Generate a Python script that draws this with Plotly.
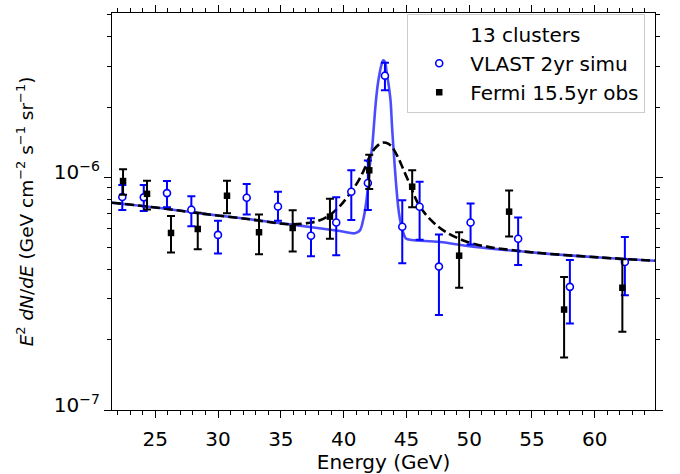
import plotly.graph_objects as go

UNIT = 1e-6  # all values below are in units of 1e-6 GeV cm^-2 s^-1 sr^-1

# VLAST 2yr simulation (blue open circles)
E_VLAST = [22.37, 24.08, 25.93, 27.87, 29.99, 32.28, 34.77, 37.40, 39.41, 40.61,
           41.93, 43.29, 44.67, 46.05, 47.59, 50.11, 53.90, 58.02, 62.40]
VLAST = [0.822, 0.819, 0.854, 0.725, 0.565, 0.816, 0.748, 0.560, 0.639, 0.865,
         0.944, 2.728, 0.612, 0.746, 0.413, 0.639, 0.544, 0.338, 0.432]
VLAST_HI = [0.926, 0.926, 0.962, 0.827, 0.649, 0.934, 0.865, 0.666, 0.819, 1.070,
            1.179, 3.101, 0.795, 0.956, 0.567, 0.770, 0.671, 0.441, 0.553]
VLAST_LO = [0.722, 0.715, 0.743, 0.616, 0.470, 0.692, 0.649, 0.457, 0.462, 0.655,
            0.722, 2.359, 0.427, 0.538, 0.256, 0.514, 0.420, 0.235, 0.311]

# Fermi 15.5yr observation (black squares)
E_FERMI = [22.43, 24.34, 26.25, 28.38, 30.71, 33.26, 35.94, 38.91, 42.04, 45.46,
           49.20, 53.18, 57.56, 62.20]
FERMI = [0.962, 0.848, 0.576, 0.599, 0.832, 0.580, 0.605, 0.677, 1.070, 0.910,
         0.460, 0.711, 0.270, 0.335]
FERMI_HI = [1.080, 0.965, 0.681, 0.704, 0.965, 0.692, 0.720, 0.808, 1.249, 1.070,
            0.580, 0.876, 0.373, 0.444]
FERMI_LO = [0.840, 0.727, 0.475, 0.490, 0.699, 0.466, 0.480, 0.544, 0.890, 0.743,
            0.335, 0.556, 0.168, 0.217]

# Model curve (VLAST resolution)
E_CURVE_V = [21.55, 25.37, 28.56, 32.54, 36.52, 39.70, 40.90, 41.30, 41.54, 41.70,
             41.91, 42.09, 42.28, 42.41, 42.57, 42.73, 42.89, 43.03, 43.15, 43.29,
             43.42, 43.58, 43.74, 43.85, 43.98, 44.16, 44.35, 44.48, 44.62, 44.80,
             44.96, 45.44, 47.67, 50.29, 55.63, 60.41, 64.79]
CURVE_V = [0.777, 0.737, 0.699, 0.659, 0.619, 0.587, 0.574, 0.591, 0.650, 0.718,
           0.871, 1.129, 1.357, 1.664, 2.120, 2.524, 2.836, 3.064, 3.176, 3.124,
           2.836, 2.500, 2.120, 1.664, 1.306, 0.960, 0.742, 0.662, 0.611, 0.567,
           0.545, 0.537, 0.527, 0.503, 0.472, 0.452, 0.4377]

# Model curve (Fermi resolution)
E_CURVE_F = [21.55, 25.37, 28.56, 32.54, 35.72, 37.32, 38.11, 38.91, 39.70, 40.34,
             41.14, 41.70, 42.09, 42.57, 43.05, 43.37, 43.77, 44.32, 44.80, 45.28,
             45.83, 46.47, 47.26, 48.22, 49.81, 51.41, 53.24, 55.63, 60.41, 64.79]
CURVE_F = [0.777, 0.737, 0.699, 0.659, 0.627, 0.637, 0.653, 0.688, 0.751, 0.828,
           0.957, 1.096, 1.232, 1.344, 1.404, 1.404, 1.364, 1.220, 1.065, 0.930,
           0.789, 0.699, 0.631, 0.578, 0.528, 0.503, 0.487, 0.472, 0.452, 0.4377]

X_RANGE = [21.55, 64.8]
Y_RANGE = [-7, -5.295]
LEGEND_TITLE = "13 clusters"


def scale(v):
    return [a * UNIT for a in v]


FONT = "DejaVu Sans"
FS = 20
fig = go.Figure()

fig.add_trace(go.Scatter(
    x=E_CURVE_V, y=scale(CURVE_V), mode="lines", line_shape="spline",
    line=dict(color="rgba(0,0,255,0.7)", width=2.6), showlegend=False,
))
fig.add_trace(go.Scatter(
    x=E_CURVE_F, y=scale(CURVE_F), mode="lines", line_shape="spline",
    line=dict(color="black", width=2.6, dash="9px,4px"), showlegend=False,
))

# legend header row (text only, no symbol)
fig.add_trace(go.Scatter(
    x=[None], y=[None], mode="markers", name=LEGEND_TITLE, legendgroup="0",
    marker=dict(size=1, color="rgba(0,0,0,0)"), hoverinfo="skip",
))

fig.add_trace(go.Scatter(
    x=E_VLAST, y=scale(VLAST), mode="markers", name="VLAST 2yr simu",
    legendgroup="a",
    marker=dict(symbol="circle", size=7, color="white",
                line=dict(color="blue", width=1.6)),
    error_y=dict(type="data", symmetric=False,
                 array=[(h - v) * UNIT for h, v in zip(VLAST_HI, VLAST)],
                 arrayminus=[(v - l) * UNIT for v, l in zip(VLAST, VLAST_LO)],
                 color="blue", thickness=2, width=4),
))
fig.add_trace(go.Scatter(
    x=E_FERMI, y=scale(FERMI), mode="markers", name="Fermi 15.5yr obs",
    legendgroup="b",
    marker=dict(symbol="square", size=6.5, color="black",
                line=dict(color="black", width=0)),
    error_y=dict(type="data", symmetric=False,
                 array=[(h - v) * UNIT for h, v in zip(FERMI_HI, FERMI)],
                 arrayminus=[(v - l) * UNIT for v, l in zip(FERMI, FERMI_LO)],
                 color="black", thickness=2, width=4),
))

minor_y = [k * 1e-7 for k in range(2, 10)] + [k * 1e-6 for k in range(2, 6)]

fig.update_layout(
    width=680, height=474,
    margin=dict(l=112, r=25, t=5, b=64),
    paper_bgcolor="white", plot_bgcolor="white",
    font=dict(family=FONT, size=FS, color="black"),
    showlegend=True,
    legend=dict(
        x=0.982, y=0.998, xanchor="right", yanchor="top",
        bgcolor="rgba(255,255,255,0.8)", bordercolor="#cccccc", borderwidth=1,
        font=dict(family=FONT, size=FS, color="black"),
        traceorder="grouped", tracegroupgap=0, itemwidth=52,
    ),
    xaxis=dict(
        range=X_RANGE, showline=True, linecolor="black", linewidth=1.3,
        mirror="ticks", ticks="outside", ticklen=7, tickwidth=1.3,
        tickcolor="black", tickmode="linear", tick0=25, dtick=5,
        showgrid=False, zeroline=False, ticklabelstandoff=4,
        minor=dict(ticks="outside", ticklen=4, tickwidth=1, dtick=1,
                   tick0=20, tickcolor="black", showgrid=False),
        title=dict(text="Energy (GeV)", font=dict(family=FONT, size=FS),
                   standoff=0),
        tickfont=dict(family=FONT, size=FS),
    ),
    yaxis=dict(
        type="log", range=Y_RANGE, showline=True, linecolor="black",
        linewidth=1.3, mirror="ticks", ticks="outside", ticklen=7,
        tickwidth=1.3, tickcolor="black", showgrid=False, zeroline=False,
        tickmode="array", tickvals=[1e-7, 1e-6], ticklabelshift=-5,
        ticktext=["10<sup>\u22127</sup>", "10<sup>\u22126</sup>"],
        minor=dict(ticks="outside", ticklen=4, tickwidth=1,
                   tickmode="array", tickvals=minor_y, tickcolor="black",
                   showgrid=False),
        title=dict(text="<i>E</i><sup>2</sup> <i>dN</i>/<i>dE</i> (GeV cm<sup>\u22122</sup> s<sup>\u22121</sup> sr<sup>\u22121</sup>)",
                   font=dict(family=FONT, size=18.5)),
        tickfont=dict(family=FONT, size=FS),
    ),
)

fig.write_html("out.html")
